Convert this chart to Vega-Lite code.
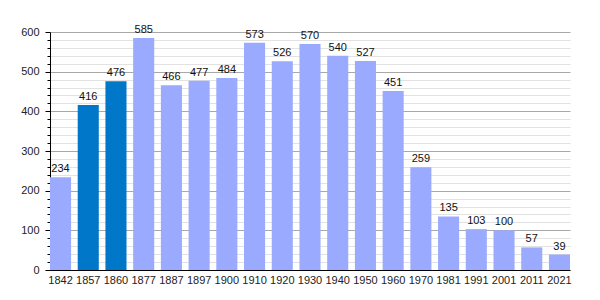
{
  "$schema": "https://vega.github.io/schema/vega-lite/v6.json",
  "width": 520,
  "height": 238,
  "autosize": {"type": "none"},
  "padding": {"left": 50, "top": 32, "right": 30, "bottom": 30},
  "background": "white",
  "config": {
    "view": {"stroke": null},
    "font": "Liberation Sans",
    "axis": {"labelFont": "Liberation Sans", "labelColor": "#222", "labelFontSize": 11}
  },
  "data": {
    "values": [
      {"year": "1842", "pop": 234, "kind": "a"},
      {"year": "1857", "pop": 416, "kind": "b"},
      {"year": "1860", "pop": 476, "kind": "b"},
      {"year": "1877", "pop": 585, "kind": "a"},
      {"year": "1887", "pop": 466, "kind": "a"},
      {"year": "1897", "pop": 477, "kind": "a"},
      {"year": "1900", "pop": 484, "kind": "a"},
      {"year": "1910", "pop": 573, "kind": "a"},
      {"year": "1920", "pop": 526, "kind": "a"},
      {"year": "1930", "pop": 570, "kind": "a"},
      {"year": "1940", "pop": 540, "kind": "a"},
      {"year": "1950", "pop": 527, "kind": "a"},
      {"year": "1960", "pop": 451, "kind": "a"},
      {"year": "1970", "pop": 259, "kind": "a"},
      {"year": "1981", "pop": 135, "kind": "a"},
      {"year": "1991", "pop": 103, "kind": "a"},
      {"year": "2001", "pop": 100, "kind": "a"},
      {"year": "2011", "pop": 57, "kind": "a"},
      {"year": "2021", "pop": 39, "kind": "a"}
    ]
  },
  "encoding": {
    "x": {
      "field": "year", "type": "nominal", "sort": null,
      "scale": {"paddingInner": 0.24, "paddingOuter": 0},
      "axis": {"title": null, "labelAngle": 0, "ticks": false, "domainColor": "#000", "domainWidth": 1, "labelPadding": 4, "grid": false}
    }
  },
  "layer": [
    {
      "mark": {"type": "bar", "opacity": 0},
      "encoding": {
        "y": {
          "field": "pop", "type": "quantitative",
          "scale": {"domain": [0, 600], "nice": false},
          "axis": {
            "orient": "left", "title": null, "labels": false, "domain": false,
            "values": [20,40,60,80,120,140,160,180,220,240,260,280,320,340,360,380,420,440,460,480,520,540,560,580],
            "tickSize": 3, "tickColor": "#000", "grid": true, "gridColor": "#e2e2e2", "gridWidth": 1
          }
        }
      }
    },
    {
      "mark": {"type": "bar"},
      "encoding": {
        "y": {
          "field": "pop", "type": "quantitative",
          "axis": {
            "orient": "left", "title": null, "values": [0,100,200,300,400,500,600],
            "tickSize": 5, "tickColor": "#000", "domainColor": "#000",
            "grid": true, "gridColor": "#a8a8a8", "gridWidth": 1, "labelPadding": 6
          }
        },
        "color": {
          "field": "kind", "type": "nominal",
          "scale": {"domain": ["a", "b"], "range": ["#99aaff", "#0077c8"]},
          "legend": null
        }
      }
    },
    {
      "mark": {"type": "text", "baseline": "bottom", "dy": -3, "fontSize": 11, "color": "#111"},
      "encoding": {
        "y": {"field": "pop", "type": "quantitative", "axis": null},
        "text": {"field": "pop", "type": "quantitative"}
      }
    }
  ],
  "resolve": {"axis": {"y": "independent"}}
}
